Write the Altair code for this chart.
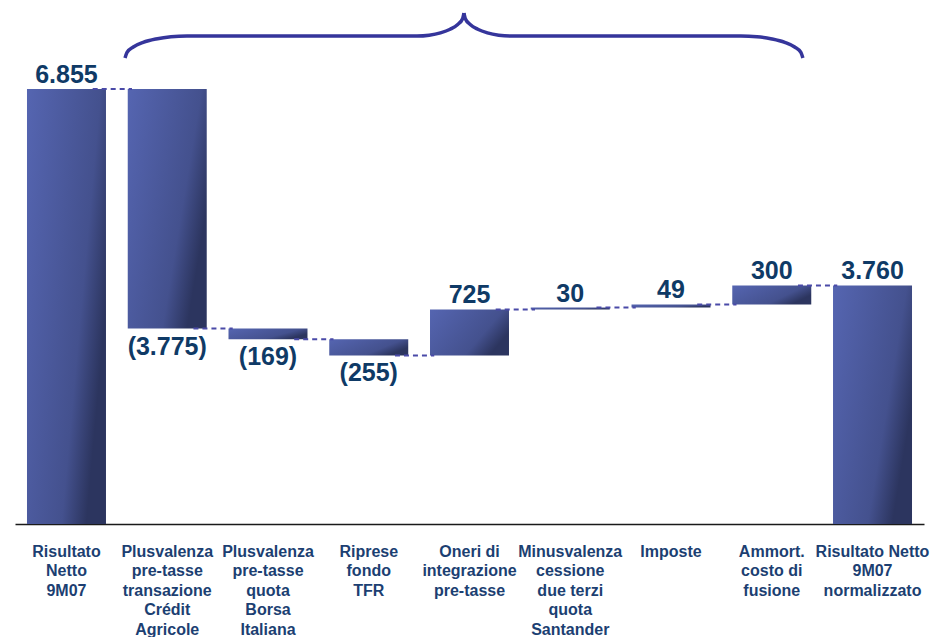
import altair as alt
import pandas as pd

# ---- data ----
categories = [
    "Risultato|Netto|9M07",
    "Plusvalenza|pre-tasse|transazione|Crédit|Agricole",
    "Plusvalenza|pre-tasse|quota|Borsa|Italiana",
    "Riprese|fondo|TFR",
    "Oneri di|integrazione|pre-tasse",
    "Minusvalenza|cessione|due terzi|quota|Santander",
    "Imposte",
    "Ammort.|costo di|fusione",
    "Risultato Netto|9M07|normalizzato",
]
values = [6855, -3775, -169, -255, 725, 30, 49, 300, 3760]
is_total = [True, False, False, False, False, False, False, False, True]

# brace annotation (x in category-index units, y in value units)
brace_left_x = [0.581, 0.601, 0.663, 0.761, 0.888, 1.037, 1.196, 3.479, 3.600, 3.712, 3.808, 3.883, 3.930, 3.945]
brace_left_y = [7343, 7433, 7517, 7589, 7643, 7679, 7690, 7690, 7703, 7739, 7796, 7871, 7958, 8052]
brace_right_x = [3.945, 3.960, 4.007, 4.082, 4.178, 4.290, 4.411, 6.694, 6.853, 7.002, 7.129, 7.227, 7.289, 7.309]
brace_right_y = [8052, 7958, 7871, 7796, 7739, 7703, 7690, 7690, 7679, 7643, 7589, 7517, 7433, 7343]

# ---- build table ----
rows = []
running = 0
for i, (c, v, t) in enumerate(zip(categories, values, is_total)):
    if t:
        start, end = 0, v
        running = v
    else:
        start, end = running, running + v
        running = end
    txt = f"{abs(v):,}".replace(",", ".")
    if v < 0:
        txt = f"({txt})"
    rows.append(dict(cat=c, idx=i, start=start, end=end,
                     lo=min(start, end), hi=max(start, end),
                     label=txt, neg=v < 0))
df = pd.DataFrame(rows)

conn = pd.DataFrame([
    dict(x1=i + 0.26, x2=i + 0.65, level=rows[i]["end"]) for i in range(len(rows) - 1)
])

brace = pd.DataFrame(
    [dict(x=x, y=y, side="L", o=k) for k, (x, y) in enumerate(zip(brace_left_x, brace_left_y))]
    + [dict(x=x, y=y, side="R", o=k) for k, (x, y) in enumerate(zip(brace_right_x, brace_right_y))]
)

YMAX = 8257
yscale = alt.Scale(domain=[0, YMAX], nice=False, zero=True)
band = alt.Scale(paddingInner=0.216, paddingOuter=0.119)
qx = alt.Scale(domain=[-0.511, 8.511], nice=False, zero=False)

grad = alt.Gradient(
    gradient="linear",
    stops=[alt.GradientStop(color="#5565b1", offset=0),
           alt.GradientStop(color="#44518e", offset=0.75),
           alt.GradientStop(color="#2c355f", offset=1)],
    x1=0, y1=0, x2=1, y2=0.5,
)

FONT = "Liberation Sans"

x_axis = alt.Axis(title=None, labelExpr="split(datum.label, '|')",
                  labelFont=FONT, labelFontWeight="bold", labelFontSize=16,
                  labelColor="#1c3f72", labelPadding=19, ticks=False,
                  domainColor="#1a1a1a", domainWidth=1.5,
                  labelLineHeight=19.5, labelAngle=0, labelOverlap=False,
                  labelBaseline="top", labelLimit=300, grid=False)
x_enc = alt.X("cat:N", sort=categories, scale=band, axis=x_axis)

bars = alt.Chart(df).mark_bar(color=grad).encode(
    x=x_enc,
    y=alt.Y("lo:Q", scale=yscale, axis=None),
    y2="hi:Q",
)

pos_txt = alt.Chart(df).transform_filter("!datum.neg").mark_text(
    font=FONT, fontWeight="bold", fontSize=25, color="#0f3a66",
    baseline="alphabetic", dy=-6,
).encode(
    x=x_enc,
    y=alt.Y("hi:Q", scale=yscale, axis=None),
    text="label:N",
)

neg_txt = alt.Chart(df).transform_filter("datum.neg").mark_text(
    font=FONT, fontWeight="bold", fontSize=25, color="#0f3a66",
    baseline="top", dy=6,
).encode(
    x=x_enc,
    y=alt.Y("lo:Q", scale=yscale, axis=None),
    text="label:N",
)

band_layer = alt.layer(bars, pos_txt, neg_txt)

connectors = alt.Chart(conn).mark_rule(
    color="#4a4aa8", strokeWidth=2, strokeDash=[5, 4],
).encode(
    x=alt.X("x1:Q", scale=qx, axis=None),
    x2="x2:Q",
    y=alt.Y("level:Q", scale=yscale, axis=None),
)

brace_line = alt.Chart(brace).mark_line(
    color="#35359b", strokeWidth=3.5, interpolate="monotone",
).encode(
    x=alt.X("x:Q", scale=qx, axis=None),
    y=alt.Y("y:Q", scale=yscale, axis=None),
    detail="side:N",
    order="o:Q",
)

quant_layer = alt.layer(connectors, brace_line)

chart = alt.layer(band_layer, quant_layer).resolve_scale(x="independent").properties(
    width=909, height=524,
    autosize=alt.AutoSizeParams(type="none"),
    padding={"left": 15, "top": 0, "right": 12, "bottom": 113},
    background="white",
).configure_view(stroke=None)

chart.save("out.html", embed_options={"renderer": "svg", "actions": False})
